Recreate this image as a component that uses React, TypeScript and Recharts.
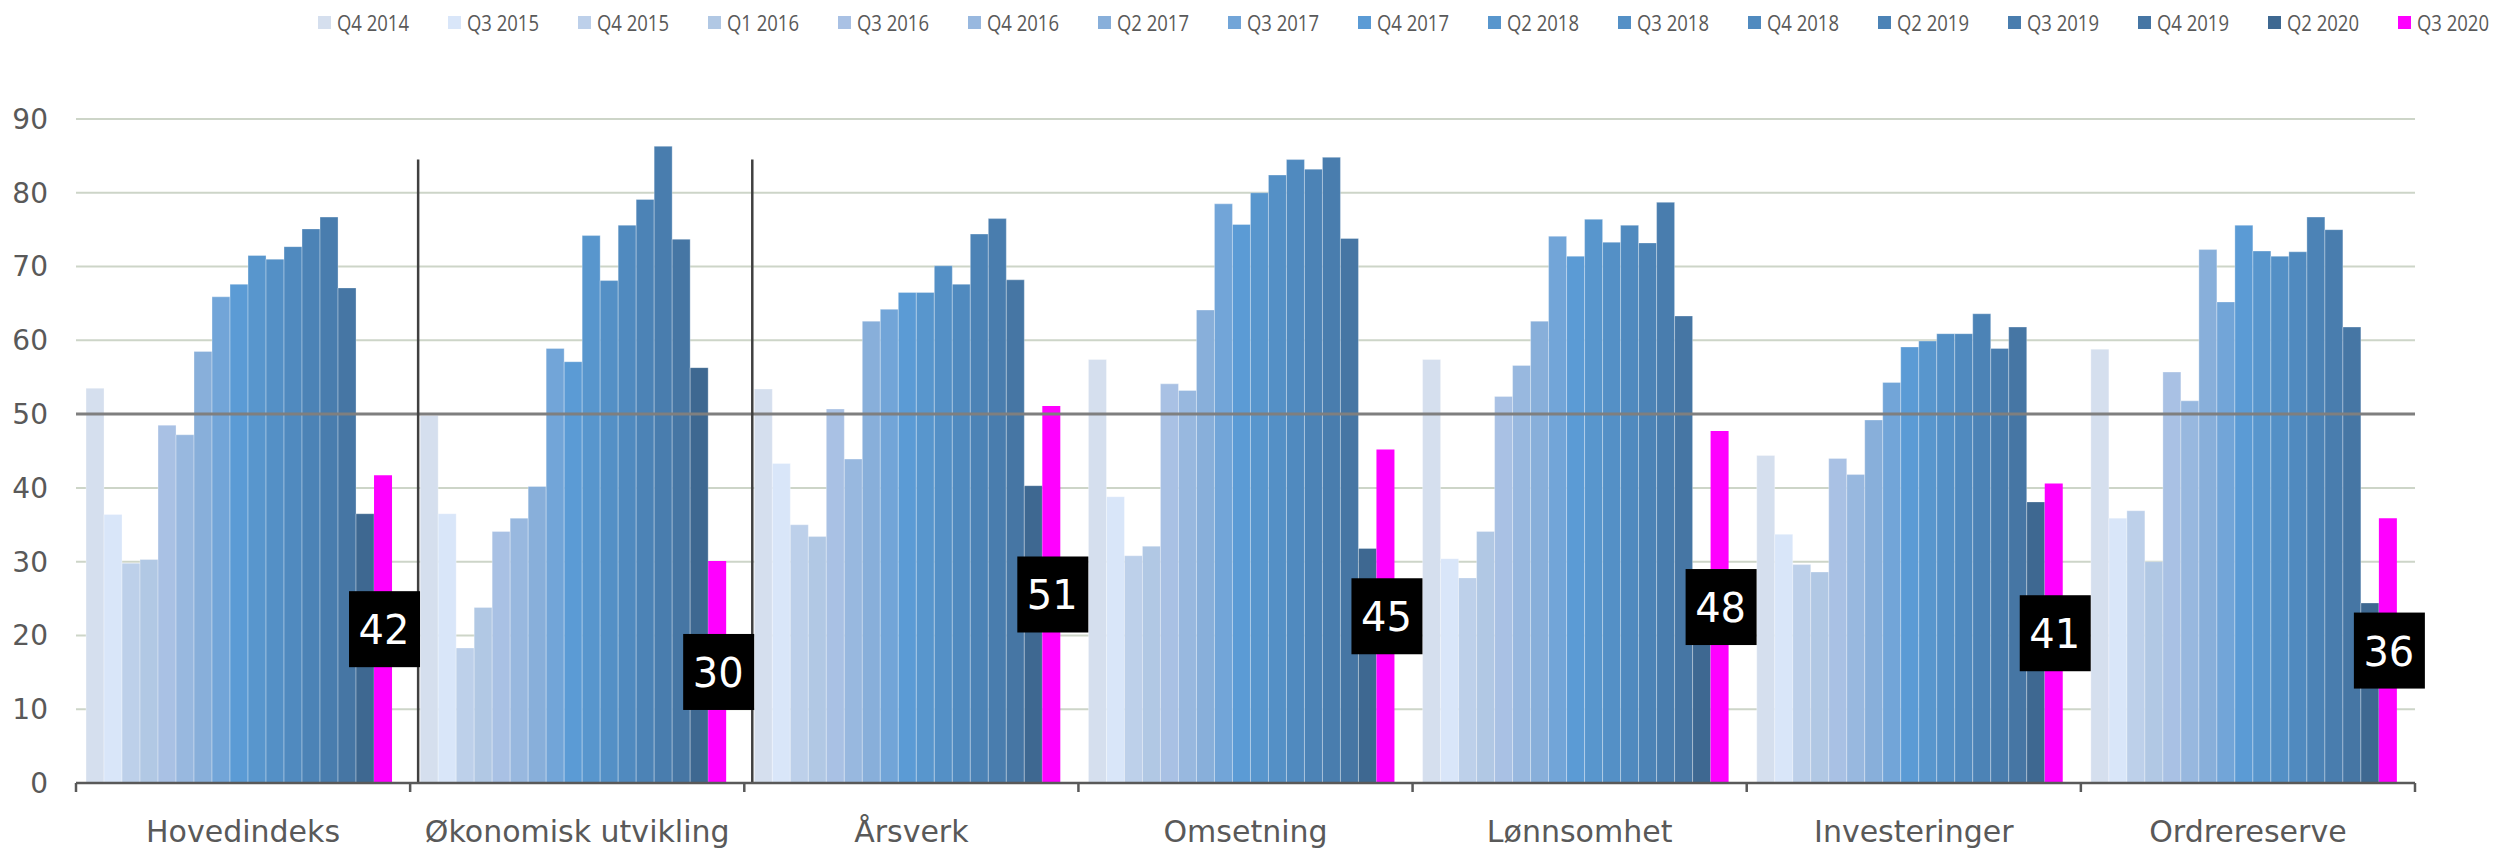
import React from "react";
import { BarChart, Bar, XAxis, YAxis, CartesianGrid, ReferenceLine, LabelList } from "recharts";

const categories = [
  "Hovedindeks",
  "Økonomisk utvikling",
  "Årsverk",
  "Omsetning",
  "Lønnsomhet",
  "Investeringer",
  "Ordrereserve",
];

const quarters = [
  "Q4 2014", "Q3 2015", "Q4 2015", "Q1 2016", "Q3 2016", "Q4 2016",
  "Q2 2017", "Q3 2017", "Q4 2017", "Q2 2018", "Q3 2018", "Q4 2018",
  "Q2 2019", "Q3 2019", "Q4 2019", "Q2 2020", "Q3 2020",
];

// one list per quarter, values in category order
const q4_2014 = [53.5, 49.8, 53.4, 57.4, 57.4, 44.4, 58.8];
const q3_2015 = [36.4, 36.5, 43.3, 38.8, 30.4, 33.7, 35.9];
const q4_2015 = [29.8, 18.3, 35.0, 30.8, 27.8, 29.6, 36.9];
const q1_2016 = [30.3, 23.8, 33.4, 32.1, 34.1, 28.6, 30.0];
const q3_2016 = [48.5, 34.1, 50.7, 54.1, 52.4, 44.0, 55.7];
const q4_2016 = [47.2, 35.9, 43.9, 53.2, 56.6, 41.8, 51.8];
const q2_2017 = [58.5, 40.2, 62.6, 64.1, 62.6, 49.2, 72.3];
const q3_2017 = [65.9, 58.9, 64.2, 78.5, 74.1, 54.3, 65.2];
const q4_2017 = [67.6, 57.1, 66.5, 75.7, 71.4, 59.1, 75.6];
const q2_2018 = [71.5, 74.2, 66.5, 80.0, 76.4, 59.9, 72.1];
const q3_2018 = [71.0, 68.1, 70.1, 82.4, 73.3, 60.9, 71.4];
const q4_2018 = [72.7, 75.6, 67.6, 84.5, 75.6, 60.9, 72.0];
const q2_2019 = [75.1, 79.1, 74.4, 83.2, 73.2, 63.6, 76.7];
const q3_2019 = [76.7, 86.3, 76.5, 84.8, 78.7, 58.9, 75.0];
const q4_2019 = [67.1, 73.7, 68.2, 73.8, 63.3, 61.8, 61.8];
const q2_2020 = [36.5, 56.3, 40.3, 31.8, 25.0, 38.1, 24.4];
const q3_2020 = [41.7, 30.1, 51.1, 45.2, 47.7, 40.6, 35.9];

const seriesValues = [
  q4_2014, q3_2015, q4_2015, q1_2016, q3_2016, q4_2016, q2_2017, q3_2017, q4_2017,
  q2_2018, q3_2018, q4_2018, q2_2019, q3_2019, q4_2019, q2_2020, q3_2020,
];

const seriesColors = [
  "#d5dfee", "#d9e6f9", "#bdd0ea", "#b1c8e4", "#a9c1e4", "#98b8df", "#88afda", "#72a5d8", "#5b9bd5",
  "#5896cd", "#5490c6", "#508abf", "#4c83b6", "#497dae", "#4676a4", "#3e6891", "#ff00ff",
];

const yTicks = [0, 10, 20, 30, 40, 50, 60, 70, 80, 90];
// dark separators drawn at the start of these categories
const dividerCategories = ["Økonomisk utvikling", "Årsverk"];
const dividerTop = 84.5;

const data = categories.map((name, i) => {
  const row: Record<string, any> = { name };
  seriesValues.forEach((vals, s) => {
    row["s" + s] = vals[i];
  });
  return row;
});

const textGray = "#595959";

const CategoryTick = (props: any) => {
  const { x, y, payload, index, visibleTicksCount } = props;
  const half = payload && payload.offset ? payload.offset : 2339 / 14;
  const isLast = index === (visibleTicksCount ?? categories.length) - 1;
  return (
    <g>
      <line x1={x - half} x2={x - half} y1={y} y2={y + 9} stroke={textGray} strokeWidth={2.5} />
      {isLast && <line x1={x + half} x2={x + half} y1={y} y2={y + 9} stroke={textGray} strokeWidth={2.5} />}
      <text x={x} y={y} dy={59} textAnchor="middle" fill={textGray} fontSize={30} fontFamily="DejaVu Sans">
        {payload.value}
      </text>
    </g>
  );
};

const ValueBox = (props: any) => {
  const { x, y, width, height, value } = props;
  const cx = x + width / 2;
  const cy = y + height / 2;
  return (
    <g>
      <rect x={cx - 34} y={cy - 38} width={71} height={76} fill="#000" />
      <text x={cx + 1} y={cy} dy={15} textAnchor="middle" fill="#fff" fontSize={40} fontFamily="DejaVu Sans">
        {Math.round(value)}
      </text>
    </g>
  );
};

const DividerShape = (props: any) => {
  const { x1, y1, x2, y2 } = props;
  return <line x1={x1 + 8} y1={y1} x2={x2 + 8} y2={y2} stroke="#404040" strokeWidth={2.5} />;
};

const LegendRow = () => (
  <div style={{ position: "absolute", left: 318, top: 9, display: "flex", height: 26, alignItems: "center" }}>
    {quarters.map((q, i) => (
      <div key={q} style={{ width: 130, display: "flex", alignItems: "center" }}>
        <span style={{ width: 13, height: 13, background: seriesColors[i], marginRight: 6, display: "inline-block", flex: "none" }} />
        <span
          style={{
            fontSize: 22,
            color: textGray,
            fontFamily: "'Open Sans', sans-serif",
            whiteSpace: "nowrap",
            display: "inline-block",
            transform: "scaleX(0.84)",
            transformOrigin: "left center",
          }}
        >
          {q}
        </span>
      </div>
    ))}
  </div>
);

export default function App() {
  return (
    <div style={{ position: "absolute", left: 0, top: 0, width: 2493, height: 848, background: "#fff", overflow: "hidden" }}>
      <LegendRow />
      <BarChart
        width={2493}
        height={848}
        data={data}
        margin={{ top: 119, right: 78, bottom: 0, left: 16 }}
        barCategoryGap="3%"
        barGap={0}
      >
        <CartesianGrid vertical={false} stroke="#cdd5c8" strokeWidth={2} />
        <XAxis
          dataKey="name"
          height={65}
          interval={0}
          tickLine={false}
          tickSize={0}
          tickMargin={0}
          axisLine={{ stroke: textGray, strokeWidth: 2.5 }}
          tick={<CategoryTick />}
        />
        <YAxis
          width={60}
          domain={[0, 90]}
          ticks={yTicks}
          interval={0}
          axisLine={false}
          tickLine={false}
          tickMargin={22}
          tick={{ fill: textGray, fontSize: 28, fontFamily: "DejaVu Sans" }}
        />
        {quarters.map((q, i) => (
          <Bar
            key={q}
            dataKey={"s" + i}
            name={q}
            fill={seriesColors[i]}
            stroke={i === quarters.length - 1 ? "none" : "rgba(255,255,255,0.3)"}
            strokeWidth={1}
            isAnimationActive={false}
          >
            {i === quarters.length - 1 && <LabelList dataKey={"s" + i} content={<ValueBox />} />}
          </Bar>
        ))}
        <ReferenceLine y={50} stroke="#7f7f7f" strokeWidth={3} />
        {dividerCategories.map((c) => (
          <ReferenceLine
            key={c}
            position="start"
            segment={[{ x: c, y: 0 }, { x: c, y: dividerTop }]}
            shape={<DividerShape />}
            ifOverflow="visible"
          />
        ))}
      </BarChart>
    </div>
  );
}
